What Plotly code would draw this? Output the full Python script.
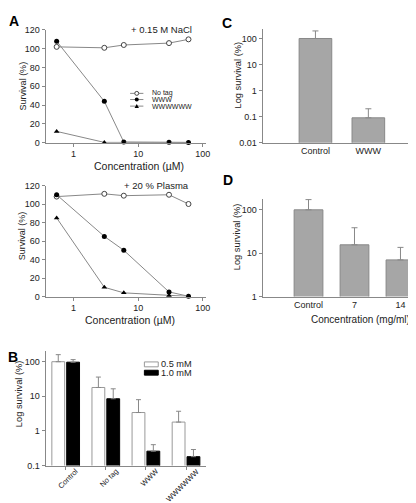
import plotly.graph_objects as go

W, H = 416, 503
def px(x): return x / W
def py(y): return 1 - y / H

FONT = "'Liberation Sans', Arial, sans-serif"
TXT = "#222222"
AX = "#888888"

# ---------------- data ----------------
conc = [0.55, 3, 6, 30, 60]
nacl_notag = [102, 101, 104, 106, 110]
nacl_www = [108, 44, 0.7, 0.5, 0.3]
nacl_w6 = [12, 0.3, 0.3, 0.3, 0.2]
plasma_notag = [108, 111, 109, 110, 100]
plasma_www = [110, 65, 50, 5, 0.3]
plasma_w6 = [85, 10, 4, 1, 0.2]
series_names = ["No tag", "WWW", "WWWWWW"]

b_cats = ["Control", "No tag", "WWW", "WWWWWW"]
b_05 = [100, 18, 3.4, 1.8]
b_05_err = [60, 18, 4.6, 1.9]
b_10 = [97, 8.5, 0.26, 0.18]
b_10_err = [18, 8, 0.14, 0.11]
b_legend = ["0.5 mM", "1.0 mM"]

c_cats = ["Control", "WWW"]
c_vals = [100, 0.09]
c_err = [95, 0.11]

d_cats = ["Control", "7", "14"]
d_vals = [100, 15.6, 7]
d_err = [72, 23, 6.6]

fig = go.Figure()

line_style = dict(color="#888888", width=1)
mk_open = dict(symbol="circle", size=5, color="white", line=dict(color="#444444", width=1))
mk_fill = dict(symbol="circle", size=5, color="black", line=dict(color="black", width=0))
mk_tri = dict(symbol="triangle-up", size=5, color="black", line=dict(color="black", width=0))

for ys, mk in [(nacl_notag, mk_open), (nacl_www, mk_fill), (nacl_w6, mk_tri)]:
    fig.add_trace(go.Scatter(x=conc, y=ys, xaxis="x", yaxis="y", mode="lines+markers",
                             line=line_style, marker=mk, cliponaxis=False, showlegend=False))
for ys, mk in [(plasma_notag, mk_open), (plasma_www, mk_fill), (plasma_w6, mk_tri)]:
    fig.add_trace(go.Scatter(x=conc, y=ys, xaxis="x2", yaxis="y2", mode="lines+markers",
                             line=line_style, marker=mk, cliponaxis=False, showlegend=False))

# B bars
errstyle = dict(type="data", symmetric=False, color="#888888", thickness=1, width=2.5)
fig.add_trace(go.Bar(x=b_cats, y=b_05, xaxis="x3", yaxis="y3", offset=-0.345, width=0.32,
                     marker=dict(color="white", line=dict(color="#999999", width=1)),
                     error_y=dict(array=b_05_err, arrayminus=[0] * 4, **errstyle), showlegend=False))
fig.add_trace(go.Bar(x=b_cats, y=b_10, xaxis="x3", yaxis="y3", offset=0.025, width=0.32,
                     marker=dict(color="black", line=dict(color="black", width=1)),
                     error_y=dict(array=b_10_err, arrayminus=[0] * 4, **errstyle), showlegend=False))

# C bars
errc = dict(type="data", symmetric=False, color="#888888", thickness=1, width=3)
fig.add_trace(go.Bar(x=c_cats, y=c_vals, xaxis="x4", yaxis="y4", width=0.617,
                     marker=dict(color="#a6a6a6", line=dict(color="#888888", width=1)),
                     error_y=dict(array=c_err, arrayminus=[0] * 2, **errc), showlegend=False))
# D bars
fig.add_trace(go.Bar(x=d_cats, y=d_vals, xaxis="x5", yaxis="y5", width=0.626,
                     marker=dict(color="#a6a6a6", line=dict(color="#888888", width=1)),
                     error_y=dict(array=d_err, arrayminus=[0] * 3, **errc), showlegend=False))

common = dict(showline=True, linecolor=AX, linewidth=1, ticks="outside", ticklen=3,
              tickcolor=AX, showgrid=False, zeroline=False,
              tickfont=dict(family=FONT, size=9, color=TXT))

ax_lin_y = dict(range=[0, 120], tickvals=[0, 20, 40, 60, 80, 100, 120], **common)
ax_log_x = dict(type="log", range=[-0.43, 2.05], tickvals=[1, 10, 100], ticktext=["1", "10", "100"], **common)

fig.update_layout(
    width=W, height=H, margin=dict(l=0, r=0, t=0, b=0),
    paper_bgcolor="white", plot_bgcolor="white", barmode="overlay",
    font=dict(family=FONT, size=9, color=TXT),
    xaxis=dict(domain=[px(38), px(200)], anchor="y", **ax_log_x),
    yaxis=dict(domain=[py(132.3), py(17.3)], anchor="x", **ax_lin_y),
    xaxis2=dict(domain=[px(38), px(200)], anchor="y2", **ax_log_x),
    yaxis2=dict(domain=[py(289.3), py(176)], anchor="x2", **ax_lin_y),
    xaxis3=dict(domain=[px(38), px(200)], anchor="y3", range=[-0.5, 3.5],
                showticklabels=False, **common),
    yaxis3=dict(domain=[py(461.7), py(345.2)], anchor="x3", type="log", range=[-1, 2.3],
                tickvals=[0.1, 1, 10, 100], ticktext=["0.1", "1", "10", "100"], **common),
    xaxis4=dict(domain=[px(257), px(413)], anchor="y4", range=[-1, 1.92],
                **{**common, "ticks": ""}),
    yaxis4=dict(domain=[py(132.3), py(16.7)], anchor="x4", type="log", range=[-2, 2.35],
                tickvals=[0.01, 0.1, 1, 10, 100], ticktext=["0.01", "0.1", "1", "10", "100"], **common),
    xaxis5=dict(domain=[px(257), px(413)], anchor="y5", range=[-1, 2.36],
                **{**common, "ticks": ""}),
    yaxis5=dict(domain=[py(289.3), py(189.3)], anchor="x5", type="log", range=[0, 2.26],
                tickvals=[1, 10, 100], ticktext=["1", "10", "100"], **common),
)

ann = []
def text(x, y, s, size=9.3, angle=0, xanchor="center", bold=False):
    ann.append(dict(x=px(x), y=py(y), xref="paper", yref="paper", text=f"<b>{s}</b>" if bold else s,
                    showarrow=False, textangle=angle, xanchor=xanchor, yanchor="middle",
                    borderpad=0, font=dict(family=FONT, size=size, color=TXT if not bold else "black")))

# rotated category labels for panel B (tied to the category axis)
for cat in b_cats:
    ann.append(dict(x=cat, xref="x3", y=py(461.5), yref="paper", text=cat, showarrow=False,
                    textangle=-45, xanchor="right", yanchor="top", xshift=16, borderpad=0,
                    font=dict(family=FONT, size=7.5, color=TXT)))

# panel letters
text(6, 8, "A", 14, bold=True)
text(5, 351, "B", 14, bold=True)
text(221, 10, "C", 14, bold=True)
text(222, 170, "D", 14, bold=True)
# axis titles
text(132, 156, "Concentration (µM)", 10.5)
text(123, 313, "Concentration (µM)", 10.5)
text(356, 313, "Concentration (mg/ml)", 10)
text(15, 74, "Survival (%)", 9, angle=-90)
text(15, 227, "Survival (%)", 9, angle=-90)
text(11, 388, "Log survival (%)", 9.3, angle=-90)
text(232, 63, "Log survival (%)", 9.3, angle=-90)
text(232, 228, "Log survival (%)", 9.3, angle=-90)
# condition labels
text(155, 17, "+ 0.15 M NaCl", 9.5)
text(150, 176, "+ 20 % Plasma", 9.5)

# legend A
shapes = []
leg_rows = [82.0, 88.3, 95.0]
for i, (name, yy) in enumerate(zip(series_names, leg_rows)):
    shapes.append(dict(type="line", xref="paper", yref="paper", x0=px(123.3), x1=px(136.7),
                       y0=py(yy), y1=py(yy), line=dict(color="#888888", width=1)))
    if i == 0:
        shapes.append(dict(type="circle", xref="paper", yref="paper", x0=px(128), x1=px(132),
                           y0=py(yy + 2), y1=py(yy - 2), fillcolor="white", line=dict(color="#444444", width=1)))
    elif i == 1:
        shapes.append(dict(type="circle", xref="paper", yref="paper", x0=px(128), x1=px(132),
                           y0=py(yy + 2), y1=py(yy - 2), fillcolor="black", line=dict(color="black", width=0)))
    else:
        shapes.append(dict(type="path", xref="paper", yref="paper",
                           path=f"M {px(127.8)} {py(yy + 1.8)} L {px(132.2)} {py(yy + 1.8)} L {px(130)} {py(yy - 2.2)} Z",
                           fillcolor="black", line=dict(color="black", width=0)))
    text(144, yy, name, 7, xanchor="left")

# legend B
for name, (y0, y1), fc, lc in zip(b_legend, [(356, 361), (364.5, 369.5)], ["white", "black"], ["#999999", "black"]):
    shapes.append(dict(type="rect", xref="paper", yref="paper", x0=px(137.7), x1=px(151.7),
                       y0=py(y1), y1=py(y0), fillcolor=fc, line=dict(color=lc, width=1)))
    text(153.5, (y0 + y1) / 2, name, 9.2, xanchor="left")

fig.update_layout(annotations=ann, shapes=shapes)
fig.write_html("out.html")
